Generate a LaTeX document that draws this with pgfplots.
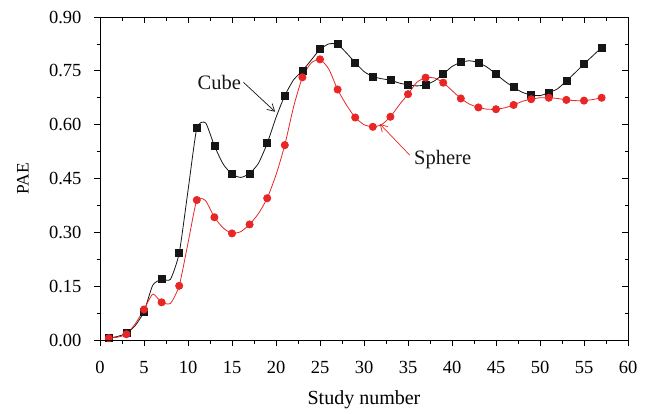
\documentclass[border=0pt]{standalone}
\usepackage{pgfplots}
\pgfplotsset{compat=1.18}
\usepackage{pgfplotstable}
\usepackage{fontspec}
\setmainfont{Liberation Serif}
\usetikzlibrary{arrows.meta,calc}

\definecolor{sphred}{RGB}{232,38,38}
\definecolor{cubeblk}{RGB}{22,22,22}

% PAE for every study; markers sit on the odd study numbers
\pgfplotstableread{
n  cube  sphere
1  0.005 0.005
2  0.010 0.008
3  0.019 0.016
4  0.040 0.045
5  0.079 0.085
6  0.153 0.128
7  0.169 0.105
8  0.169 0.102
9  0.242 0.151
10 0.416 0.270
11 0.590 0.390
12 0.605 0.388
13 0.541 0.342
14 0.490 0.312
15 0.462 0.297
16 0.453 0.302
17 0.464 0.322
18 0.492 0.352
19 0.548 0.395
20 0.620 0.460
21 0.681 0.543
22 0.725 0.650
23 0.750 0.732
24 0.780 0.772
25 0.810 0.782
26 0.825 0.755
27 0.824 0.698
28 0.800 0.655
29 0.773 0.620
30 0.748 0.600
31 0.734 0.594
32 0.728 0.600
33 0.724 0.622
34 0.716 0.655
35 0.711 0.685
36 0.708 0.718
37 0.711 0.731
38 0.722 0.730
39 0.741 0.717
40 0.762 0.695
41 0.774 0.673
42 0.778 0.657
43 0.773 0.648
44 0.760 0.643
45 0.741 0.643
46 0.721 0.647
47 0.704 0.655
48 0.690 0.665
49 0.683 0.671
50 0.681 0.675
51 0.689 0.675
52 0.700 0.673
53 0.722 0.669
54 0.745 0.667
55 0.769 0.667
56 0.792 0.670
57 0.815 0.675
}\paetable

\begin{document}
\begin{tikzpicture}
\pgfplotsset{
  paeframe/.style={
    width=528pt, height=323pt, scale only axis,
    xmin=0, xmax=60, ymin=0, ymax=0.9,
    xtick={0,5,...,60},
    ytick={0,0.15,0.30,0.45,0.60,0.75,0.90},
    minor x tick num=1, minor y tick num=1,
    major tick length=6pt, minor tick length=3.5pt,
    axis line style={line width=0.9pt},
    every tick/.style={line width=0.8pt, black},
    every minor tick/.style={line width=0.7pt, black},
  }
}
\begin{axis}[
  paeframe,
  tick align=outside,
  xtick pos=bottom, ytick pos=left,
  /pgf/number format/assume math mode=true,
  tick label style={font=\fontsize{18.5}{20}\selectfont},
  yticklabel style={/pgf/number format/.cd, fixed, fixed zerofill, precision=2, /tikz/.cd, xshift=-9pt},
  xticklabel style={yshift=-12pt},
  xlabel={Study number},
  ylabel={PAE},
  xlabel style={font=\fontsize{20}{22}\selectfont, at={(axis description cs:0.5,-0.184)}, anchor=center},
  ylabel style={font=\fontsize{17.5}{19}\selectfont, at={(axis description cs:-0.146,0.5)}, anchor=center},
]
\addplot[cubeblk, line width=0.8pt, smooth, tension=0.35,
  mark=square*, mark repeat=2, mark size=3.5pt,
  mark options={solid, fill=cubeblk, draw=cubeblk}]
  table[x=n, y=cube] {\paetable};
\addplot[sphred, line width=0.8pt, smooth, tension=0.35,
  mark=*, mark repeat=2, mark size=3.6pt,
  mark options={solid, fill=sphred, draw=sphred}]
  table[x=n, y=sphere] {\paetable};

\node[font=\fontsize{20.5}{22}\selectfont, text=cubeblk] at (axis cs:13.56,0.717) {Cube};
\draw[cubeblk, line width=0.7pt, -{Straight Barb[length=7pt, width=8pt]}]
  (axis cs:16.3,0.718) -- (axis cs:19.9,0.636);
\node[font=\fontsize{20.5}{22}\selectfont, text=cubeblk, anchor=west] at (axis cs:35.3,0.503) {Sphere};
\draw[sphred, line width=0.7pt, -{Straight Barb[length=7pt, width=8pt]}]
  (axis cs:35.2,0.515) -- (axis cs:31.8,0.602);
\end{axis}
% mirrored inward ticks on the top and right edges
\begin{axis}[
  paeframe,
  tick align=inside,
  xtick pos=top, ytick pos=right,
  xticklabels={}, yticklabels={},
]
\end{axis}
\path ($(current axis.south west)+(-100pt,-73pt)$) rectangle ($(current axis.north east)+(21pt,17pt)$);
\end{tikzpicture}
\end{document}
